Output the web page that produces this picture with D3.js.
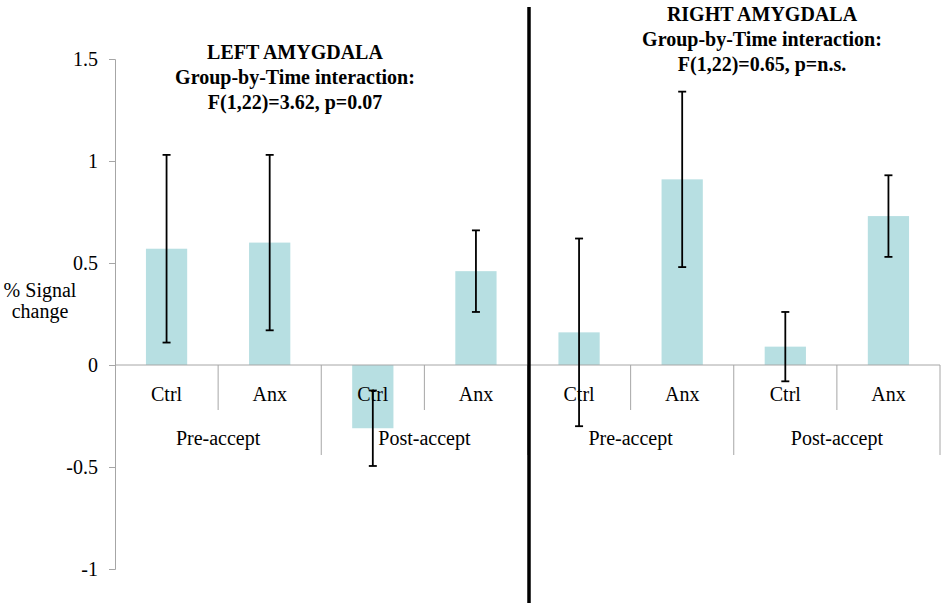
<!DOCTYPE html>
<html><head><meta charset="utf-8">
<script src="https://cdn.jsdelivr.net/npm/d3@7"></script>
<style>body{margin:0;background:#fff}svg{display:block}text{font-family:"Liberation Serif","Times New Roman","DejaVu Serif",serif}</style>
</head><body><svg id="c" width="945" height="603"></svg>
<script>
const groups = ["Ctrl","Anx","Ctrl","Anx","Ctrl","Anx","Ctrl","Anx"];
const times = ["Pre-accept","Post-accept","Pre-accept","Post-accept"];
const means = [0.57, 0.60, -0.31, 0.46, 0.16, 0.91, 0.09, 0.73];
const errs  = [0.46, 0.43, 0.185, 0.20, 0.46, 0.43, 0.17, 0.20];
const yTicks = [-1, -0.5, 0, 0.5, 1, 1.5];
const titleLeft = ["LEFT AMYGDALA","Group-by-Time interaction:","F(1,22)=3.62, p=0.07"];
const titleRight = ["RIGHT AMYGDALA","Group-by-Time interaction:","F(1,22)=0.65, p=n.s."];

const svg = d3.select("#c");
const x0 = 115, x1 = 940;
const y = d3.scaleLinear().domain([-1, 1.5]).range([569, 59]);
const x = d3.scaleBand().domain(d3.range(groups.length)).range([x0, x1]).paddingInner(0).paddingOuter(0);
const gray = "#a6a6a6";

// y axis
const ya = svg.append("g").attr("transform", `translate(${x0},0)`)
  .call(d3.axisLeft(y).tickValues(yTicks).tickSize(6).tickSizeOuter(6).tickFormat(d => String(d)));
ya.selectAll("path,line").attr("stroke", gray);
ya.selectAll("text").attr("font-size", 20).attr("fill", "#000").attr("x", -17).attr("dy", "0.34em");

// bars
svg.append("g").selectAll("rect").data(means).join("rect")
  .attr("x", (d,i) => x(i) + x.bandwidth()*0.3)
  .attr("width", x.bandwidth()*0.4)
  .attr("y", d => y(Math.max(0,d)))
  .attr("height", d => Math.abs(y(d) - y(0)))
  .attr("fill", "#b7dfe2");

// zero line
svg.append("line").attr("x1", x0).attr("x2", x1).attr("y1", y(0)).attr("y2", y(0)).attr("stroke", gray).attr("stroke-width", 1);

// category separators
const sep = svg.append("g").attr("stroke", gray).attr("stroke-width", 1);
for (let i = 1; i <= groups.length; i++) {
  const xx = i === groups.length ? x1 : x(i);
  const long = i % 2 === 0;
  sep.append("line").attr("x1", xx).attr("x2", xx).attr("y1", y(0)).attr("y2", long ? 455 : 410);
}

// category labels
svg.append("g").selectAll("text").data(groups).join("text")
  .attr("x", (d,i) => x(i) + x.bandwidth()/2).attr("y", 401)
  .attr("text-anchor", "middle").attr("font-size", 20).text(d => d);
svg.append("g").selectAll("text").data(times).join("text")
  .attr("x", (d,i) => x(i*2) + x.bandwidth()).attr("y", 445)
  .attr("text-anchor", "middle").attr("font-size", 20).text(d => d);

// error bars
const eb = svg.append("g").attr("stroke", "#000").attr("stroke-width", 1.8);
means.forEach((m,i) => {
  const cx = x(i) + x.bandwidth()/2;
  eb.append("line").attr("x1", cx).attr("x2", cx).attr("y1", y(m+errs[i])).attr("y2", y(m-errs[i]));
  [m+errs[i], m-errs[i]].forEach(v => eb.append("line").attr("x1", cx-4).attr("x2", cx+4).attr("y1", y(v)).attr("y2", y(v)));
});

// y label
svg.append("text").attr("x", 40).attr("y", 297).attr("text-anchor","middle").attr("font-size",20).text("% Signal");
svg.append("text").attr("x", 40).attr("y", 318).attr("text-anchor","middle").attr("font-size",20).text("change");

// divider
svg.append("line").attr("x1", 529).attr("x2", 529).attr("y1", 7).attr("y2", 603).attr("stroke", "#000").attr("stroke-width", 3.5);

// titles
function title(lines, cx, y0) {
  svg.append("g").selectAll("text").data(lines).join("text")
    .attr("x", cx).attr("y", (d,i) => y0 + i*25)
    .attr("text-anchor","middle").attr("font-size", 20).attr("font-weight","bold").text(d => d);
}
title(titleLeft, 295, 59);
title(titleRight, 762, 21);
</script></body></html>
